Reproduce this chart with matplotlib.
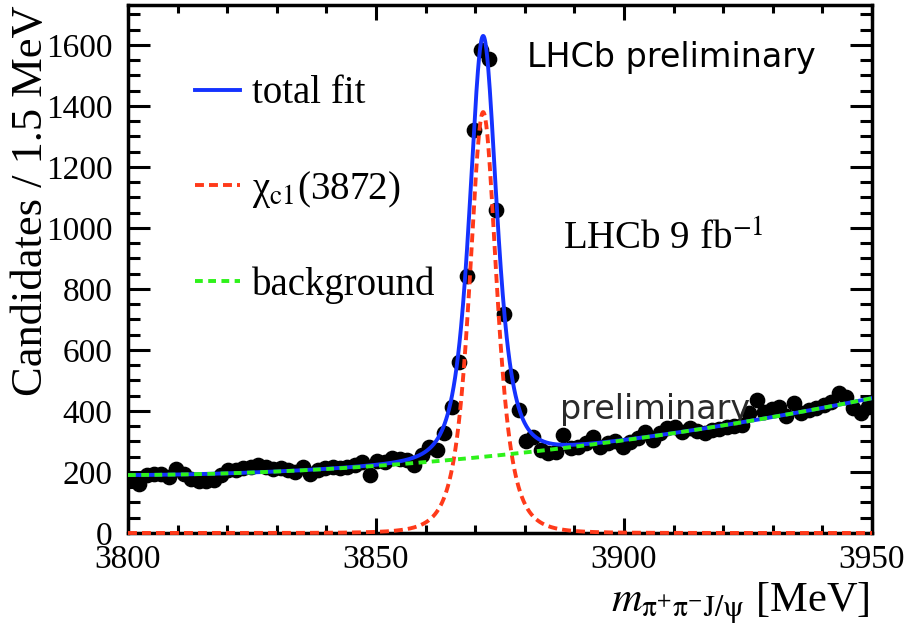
import numpy as np
import matplotlib
matplotlib.use("Agg")
import matplotlib.pyplot as plt
from matplotlib.ticker import MultipleLocator

# Binned candidates, 1.5 MeV bins from 3800 to 3950 MeV
bin_lo = 3800.0
bin_width = 1.5
counts = [
    175, 160, 190, 195, 192, 185, 210, 195, 178, 170,
    172, 175, 190, 205, 208, 212, 218, 222, 215, 210,
    212, 205, 200, 218, 192, 208, 212, 215, 212, 218,
    222, 232, 190, 236, 232, 245, 242, 239, 223, 255,
    283, 272, 327, 414, 561, 842, 1321, 1584, 1555, 1058,
    718, 514, 403, 303, 316, 272, 262, 265, 320, 278,
    283, 295, 316, 283, 294, 300, 283, 299, 310, 332,
    305, 328, 344, 348, 330, 344, 335, 328, 338, 340,
    348, 352, 354, 393, 436, 398, 405, 414, 382, 426,
    395, 403, 410, 420, 430, 459, 447, 410, 393, 414,
]

# Fit components: signal peak (Student-t shape) and quadratic background
sig_amp = 1380.0
sig_mean = 3871.6
sig_width = 2.9
sig_nu = 3.0
bkg_coef = [190.0, 0.06, 0.0108]   # c0 + c1*(m-3800) + c2*(m-3800)^2

x_ticks = [3800, 3850, 3900, 3950]
y_ticks = [0, 200, 400, 600, 800, 1000, 1200, 1400, 1600]

centers = bin_lo + bin_width * (np.arange(len(counts)) + 0.5)
m = np.linspace(3800, 3950, 1500)
bkg = bkg_coef[0] + bkg_coef[1] * (m - 3800) + bkg_coef[2] * (m - 3800) ** 2
sig = sig_amp * (1 + ((m - sig_mean) / sig_width) ** 2 / sig_nu) ** (-(sig_nu + 1) / 2)
total = sig + bkg

serif = ["Liberation Serif", "DejaVu Serif"]
plt.rcParams["mathtext.fontset"] = "stix"

W, H = 909, 630
fig = plt.figure(figsize=(W / 100, H / 100), dpi=100)
ax = fig.add_axes([128 / W, 1 - 533 / H, (872 - 128) / W, (533 - 5) / H])

ax.plot(centers, counts, "o", color="black", markersize=10.3, zorder=2)
blue = "#1432ff"
red = "#ff3a1a"
green = "#2ef21a"
ax.plot(m, total, color=blue, lw=2.8, label="total fit", zorder=3)
ax.plot(m, sig, color=red, lw=2.8, ls=(0, (2.3, 1.3)),
        label="\u03c7$_{\\mathrm{c1}}$(3872)", zorder=4, clip_on=False)
ax.plot(m, bkg, color=green, lw=2.8, ls=(0, (2.0, 1.4)), label="background", zorder=5)

ax.set_xlim(3800, 3950)
ax.set_ylim(0, 1731)
ax.set_xticks(x_ticks)
ax.set_yticks(y_ticks)
ax.xaxis.set_minor_locator(MultipleLocator(10))
ax.yaxis.set_minor_locator(MultipleLocator(50))
ax.tick_params(axis="both", which="both", direction="in", top=True, right=True,
               width=2.2, colors="black")
ax.tick_params(axis="x", which="major", length=11, pad=8)
ax.tick_params(axis="x", which="minor", length=5.5)
ax.tick_params(axis="y", which="major", length=16, pad=11)
ax.tick_params(axis="y", which="minor", length=8.5)
for lab in ax.get_xticklabels() + ax.get_yticklabels():
    lab.set_family(serif)
    lab.set_fontsize(24)
for sp in ax.spines.values():
    sp.set_linewidth(2.5)

ax.set_ylabel("Candidates / 1.5 MeV", family=serif, fontsize=32)
ax.yaxis.set_label_coords(-0.104, 1.0)
ax.yaxis.label.set_ha("right")
ax.set_xlabel("$m_{\\mathrm{\u03c0^{+}\u03c0^{-}J/\u03c8}}$ [MeV]", family=serif,
              fontsize=30.5)
ax.xaxis.set_label_coords(0.997, -0.091)
ax.xaxis.label.set_ha("right")

ax.legend(loc="upper left", bbox_to_anchor=(0.09, 0.867), frameon=False,
          prop={"family": serif, "size": 28}, handlelength=1.16,
          handletextpad=0.31, labelspacing=1.45, borderpad=0, borderaxespad=0)

fig.text(527 / W, 1 - 58 / H, "LHCb preliminary", fontsize=24,
         family="DejaVu Sans", va="center")
ax.text(0.585, 0.555, "LHCb 9 fb$^{-1}$", transform=ax.transAxes, family=serif,
        fontsize=28, va="center")
ax.text(0.581, 0.233, "preliminary", transform=ax.transAxes, family="DejaVu Sans",
        fontsize=24, color="#2a2a2a", va="center")

fig.savefig("out.png", dpi=100)
